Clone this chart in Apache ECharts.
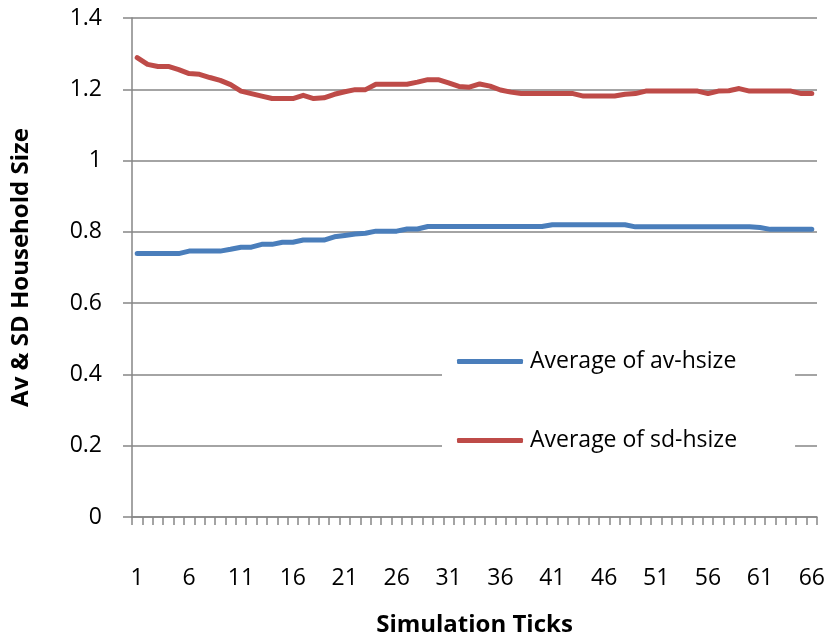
<!DOCTYPE html>
<html>
<head>
<meta charset="utf-8">
<script src="https://cdn.jsdelivr.net/npm/echarts@6/dist/echarts.min.js"></script>
<style>
html,body{margin:0;padding:0;background:#fff;}
#chart{width:836px;height:642px;}
</style>
</head>
<body>
<div id="chart"></div>
<script>
const ticks = [];
for (let i = 1; i <= 66; i++) ticks.push(String(i));

const avHsize = [
  0.739, 0.739, 0.739, 0.739, 0.739, 0.746, 0.746, 0.746, 0.746, 0.751,
  0.757, 0.757, 0.765, 0.765, 0.771, 0.771, 0.777, 0.777, 0.777, 0.786,
  0.790, 0.794, 0.796, 0.802, 0.802, 0.802, 0.808, 0.808, 0.815, 0.815,
  0.815, 0.815, 0.815, 0.815, 0.815, 0.815, 0.815, 0.815, 0.815, 0.815,
  0.820, 0.820, 0.820, 0.820, 0.820, 0.820, 0.820, 0.820, 0.814, 0.814,
  0.814, 0.814, 0.814, 0.814, 0.814, 0.814, 0.814, 0.814, 0.814, 0.814,
  0.812, 0.807, 0.807, 0.807, 0.807, 0.807
];

const sdHsize = [
  1.289, 1.270, 1.264, 1.264, 1.255, 1.244, 1.242, 1.233, 1.225, 1.213,
  1.195, 1.188, 1.181, 1.174, 1.174, 1.174, 1.183, 1.174, 1.176, 1.186,
  1.193, 1.199, 1.199, 1.214, 1.214, 1.214, 1.214, 1.220, 1.227, 1.227,
  1.218, 1.208, 1.206, 1.215, 1.209, 1.198, 1.192, 1.188, 1.188, 1.188,
  1.188, 1.188, 1.188, 1.181, 1.181, 1.181, 1.181, 1.186, 1.188, 1.195,
  1.195, 1.195, 1.195, 1.195, 1.195, 1.188, 1.195, 1.196, 1.202, 1.195,
  1.195, 1.195, 1.195, 1.195, 1.188, 1.188
];

const seriesNames = ['Average of av-hsize', 'Average of sd-hsize'];
const FONT = 'Open Sans';

const chart = echarts.init(document.getElementById('chart'));
chart.setOption({
  animation: false,
  backgroundColor: '#ffffff',
  grid: { left: 132, right: 19, top: 18, bottom: 123 },
  xAxis: {
    type: 'category',
    data: ticks,
    boundaryGap: true,
    name: 'Simulation Ticks',
    nameLocation: 'middle',
    nameGap: 96,
    nameTextStyle: { fontFamily: FONT, fontWeight: 'bold', fontSize: 24, color: '#000' },
    axisLine: { lineStyle: { color: '#868686', width: 1.5 } },
    axisTick: { show: true, interval: 0, length: 8, alignWithLabel: false, lineStyle: { color: '#868686', width: 1.5 } },
    axisLabel: { interval: 4, margin: 50, fontFamily: FONT, fontSize: 23, color: '#000' },
    splitLine: { show: false }
  },
  yAxis: {
    type: 'value',
    min: 0, max: 1.4, interval: 0.2,
    name: 'Av & SD Household Size',
    nameLocation: 'middle',
    nameGap: 99,
    nameRotate: 90,
    nameTextStyle: { fontFamily: FONT, fontWeight: 'bold', fontSize: 24, color: '#000' },
    axisLine: { show: true, lineStyle: { color: '#868686', width: 1.5 } },
    axisTick: { show: true, length: 9, lineStyle: { color: '#868686', width: 1.5 } },
    axisLabel: { margin: 30, fontFamily: FONT, fontSize: 23, color: '#000' },
    splitLine: { show: true, lineStyle: { color: '#868686', width: 1.5 } }
  },
  legend: {
    orient: 'vertical',
    left: 442,
    top: 334,
    padding: [16, 58, 16, 15],
    backgroundColor: '#ffffff',
    icon: 'roundRect',
    itemWidth: 66,
    itemHeight: 5,
    itemGap: 56,
    textStyle: { fontFamily: FONT, fontSize: 23, color: '#000', padding: [0, 0, 0, 2] },
    data: seriesNames
  },
  series: [
    {
      name: seriesNames[0],
      type: 'line',
      data: avHsize,
      showSymbol: false,
      symbol: 'none',
      lineStyle: { color: '#4A7EBB', width: 5, cap: 'round', join: 'round' },
      itemStyle: { color: '#4A7EBB' }
    },
    {
      name: seriesNames[1],
      type: 'line',
      data: sdHsize,
      showSymbol: false,
      symbol: 'none',
      lineStyle: { color: '#BE4B48', width: 5, cap: 'round', join: 'round' },
      itemStyle: { color: '#BE4B48' }
    }
  ]
});
</script>
</body>
</html>
